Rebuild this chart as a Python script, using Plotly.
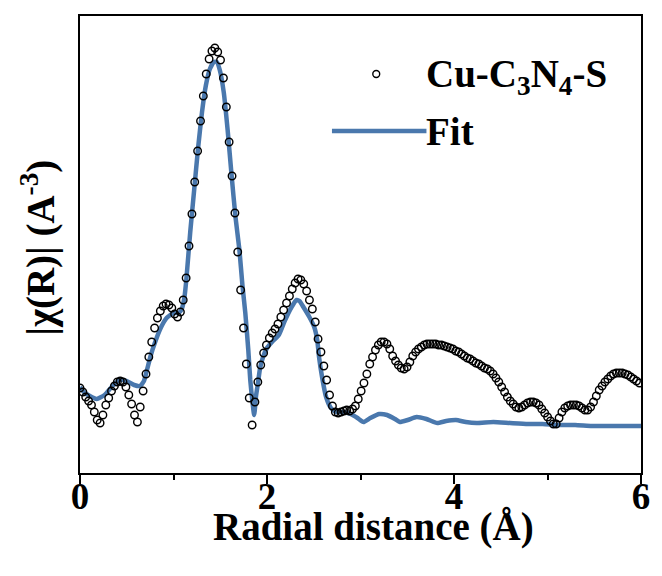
import plotly.graph_objects as go

# ---- data: Cu-C3N4-S FT-EXAFS |chi(R)| (arbitrary units) ----
r_data = [0.000, 0.031, 0.061, 0.092, 0.123, 0.153, 0.184, 0.215, 0.245, 0.276,
          0.307, 0.337, 0.368, 0.399, 0.430, 0.460, 0.491, 0.522, 0.552, 0.583,
          0.614, 0.644, 0.675, 0.706, 0.736, 0.767, 0.798, 0.828, 0.859, 0.890,
          0.920, 0.951, 0.982, 1.012, 1.043, 1.074, 1.104, 1.135, 1.166, 1.197,
          1.227, 1.258, 1.289, 1.319, 1.350, 1.381, 1.411, 1.442, 1.473, 1.503,
          1.534, 1.565, 1.595, 1.626, 1.657, 1.687, 1.718, 1.749, 1.779, 1.810,
          1.841, 1.871, 1.902, 1.933, 1.964, 1.994, 2.025, 2.056, 2.086, 2.117,
          2.148, 2.178, 2.209, 2.240, 2.270, 2.301, 2.332, 2.362, 2.393, 2.424,
          2.454, 2.485, 2.516, 2.546, 2.577, 2.608, 2.638, 2.669, 2.700, 2.731,
          2.761, 2.792, 2.823, 2.853, 2.884, 2.915, 2.945, 2.976, 3.007, 3.037,
          3.068, 3.099, 3.129, 3.160, 3.191, 3.221, 3.252, 3.283, 3.313, 3.344,
          3.375, 3.405, 3.436, 3.467, 3.498, 3.528, 3.559, 3.590, 3.620, 3.651,
          3.682, 3.712, 3.743, 3.774, 3.804, 3.835, 3.866, 3.896, 3.927, 3.958,
          3.988, 4.019, 4.050, 4.080, 4.111, 4.142, 4.172, 4.203, 4.234, 4.265,
          4.295, 4.326, 4.357, 4.387, 4.418, 4.449, 4.479, 4.510, 4.541, 4.571,
          4.602, 4.633, 4.663, 4.694, 4.725, 4.755, 4.786, 4.817, 4.847, 4.878,
          4.909, 4.939, 4.970, 5.001, 5.032, 5.062, 5.093, 5.124, 5.154, 5.185,
          5.216, 5.246, 5.277, 5.308, 5.338, 5.369, 5.400, 5.430, 5.461, 5.492,
          5.522, 5.553, 5.584, 5.614, 5.645, 5.676, 5.706, 5.737, 5.768, 5.799,
          5.829, 5.860, 5.891, 5.921, 5.952, 5.983]
chi_data = [0.85, 0.81, 0.76, 0.72, 0.68, 0.61, 0.53, 0.50, 0.58, 0.68,
            0.75, 0.82, 0.87, 0.91, 0.92, 0.91, 0.86, 0.78, 0.69, 0.58,
            0.51, 0.66, 0.82, 0.99, 1.16, 1.31, 1.45, 1.55, 1.62, 1.67,
            1.69, 1.68, 1.65, 1.59, 1.56, 1.61, 1.73, 1.95, 2.27, 2.59,
            2.91, 3.22, 3.52, 3.77, 3.99, 4.14, 4.22, 4.25, 4.21, 4.13,
            3.95, 3.66, 3.31, 2.97, 2.60, 2.21, 1.83, 1.45, 1.09, 0.75,
            0.48, 0.71, 0.91, 1.08, 1.20, 1.28, 1.35, 1.40, 1.44, 1.49,
            1.56, 1.63, 1.70, 1.77, 1.84, 1.90, 1.94, 1.93, 1.89, 1.82,
            1.73, 1.64, 1.51, 1.34, 1.21, 1.07, 0.93, 0.78, 0.67, 0.61,
            0.60, 0.61, 0.62, 0.63, 0.62, 0.64, 0.67, 0.74, 0.82, 0.90,
            0.99, 1.09, 1.16, 1.23, 1.28, 1.31, 1.31, 1.29, 1.24, 1.17,
            1.12, 1.08, 1.05, 1.04, 1.06, 1.11, 1.17, 1.21, 1.24, 1.26,
            1.28, 1.29, 1.29, 1.29, 1.29, 1.28, 1.28, 1.27, 1.26, 1.25,
            1.24, 1.22, 1.21, 1.19, 1.17, 1.15, 1.14, 1.12, 1.10, 1.09,
            1.07, 1.05, 1.04, 1.02, 0.99, 0.95, 0.91, 0.86, 0.81, 0.76,
            0.72, 0.69, 0.66, 0.65, 0.66, 0.68, 0.70, 0.71, 0.71, 0.70,
            0.68, 0.64, 0.60, 0.56, 0.52, 0.49, 0.49, 0.55, 0.61, 0.65,
            0.67, 0.68, 0.68, 0.68, 0.67, 0.65, 0.63, 0.63, 0.66, 0.71,
            0.77, 0.83, 0.87, 0.91, 0.94, 0.97, 0.99, 1.00, 1.00, 1.00,
            0.99, 0.98, 0.96, 0.94, 0.92, 0.90]

# ---- fit curve ----
r_fit = [0.000, 0.042, 0.105, 0.179, 0.263, 0.347, 0.421, 0.495, 0.579, 0.642,
         0.684, 0.716, 0.758, 0.800, 0.863, 0.926, 1.000, 1.053, 1.084, 1.116,
         1.137, 1.179, 1.221, 1.263, 1.305, 1.347, 1.389, 1.432, 1.463, 1.495,
         1.537, 1.579, 1.621, 1.663, 1.705, 1.737, 1.768, 1.800, 1.821, 1.842,
         1.863, 1.884, 1.905, 1.926, 1.958, 2.000, 2.053, 2.126, 2.189, 2.263,
         2.316, 2.347, 2.389, 2.453, 2.505, 2.537, 2.558, 2.589, 2.632, 2.684,
         2.737, 2.811, 2.895, 2.968, 3.032, 3.105, 3.200, 3.284, 3.368, 3.421,
         3.505, 3.600, 3.705, 3.821, 3.916, 4.021, 4.126, 4.242, 4.421, 4.600,
         4.789, 4.947, 5.126, 5.295, 5.474, 5.653, 6.000]
chi_fit = [0.86, 0.81, 0.77, 0.74, 0.78, 0.87, 0.93, 0.92, 0.88, 0.87,
           0.92, 1.03, 1.18, 1.30, 1.45, 1.55, 1.60, 1.60, 1.63, 1.75,
           1.93, 2.41, 2.83, 3.25, 3.61, 3.88, 4.04, 4.11, 4.11, 4.03,
           3.81, 3.43, 2.98, 2.56, 2.23, 1.88, 1.60, 1.23, 0.93, 0.73,
           0.58, 0.78, 0.91, 1.05, 1.16, 1.25, 1.31, 1.38, 1.52, 1.66,
           1.73, 1.72, 1.66, 1.56, 1.46, 1.33, 1.15, 0.96, 0.76, 0.65,
           0.61, 0.61, 0.59, 0.55, 0.51, 0.55, 0.59, 0.58, 0.54, 0.51,
           0.53, 0.56, 0.54, 0.50, 0.52, 0.53, 0.51, 0.50, 0.51, 0.50,
           0.49, 0.49, 0.48, 0.48, 0.47, 0.47, 0.47]

x_ticks = [0, 2, 4, 6]
x_ticktext = ["0", "2", "4", "6"]
label_data = "Cu-C<sub>3</sub>N<sub>4</sub>-S"
label_fit = "Fit"
x_title = "Radial distance (Å)"
y_title = "|χ(R)| (A<sup>-3</sup>)"

FIT_COLOR = "#4a78ad"
FONT = "Liberation Serif"

fig = go.Figure()
fig.add_trace(go.Scatter(
    x=r_fit, y=chi_fit, mode="lines", name=label_fit,
    line=dict(color=FIT_COLOR, width=4.5, shape="spline", smoothing=0.5),
    showlegend=False))
fig.add_trace(go.Scatter(
    x=r_data, y=chi_data, mode="markers", name=label_data,
    marker=dict(symbol="circle-open", size=7.5, color="black",
                line=dict(color="black", width=1.4)),
    showlegend=False))

L, R, T, B = 80, 12, 16, 103
W, H = 662, 576
pw, ph = W - L - R, H - T - B

def px(xp):
    return (xp - L) / pw

def py(yp):
    return (H - B - yp) / ph

# manual legend
fig.add_shape(type="circle", xref="paper", yref="paper",
              x0=px(381 - 3.5), x1=px(381 + 3.5), y0=py(74 + 3.5), y1=py(74 - 3.5),
              line=dict(color="black", width=1.4))
fig.add_shape(type="line", xref="paper", yref="paper",
              x0=px(336), x1=px(432), y0=py(131), y1=py(131),
              line=dict(color=FIT_COLOR, width=4.5))
fig.add_annotation(text=label_data, xref="paper", yref="paper",
                   x=px(430), y=py(76), xanchor="left", yanchor="middle",
                   showarrow=False, font=dict(size=39))
fig.add_annotation(text=label_fit, xref="paper", yref="paper",
                   x=px(430), y=py(131), xanchor="left", yanchor="middle",
                   showarrow=False, font=dict(size=39))
# axis titles
fig.add_annotation(text=y_title, xref="paper", yref="paper",
                   x=px(37), y=py(248), xanchor="center", yanchor="middle",
                   textangle=-90, showarrow=False, font=dict(size=39))
fig.add_annotation(text=x_title, xref="paper", yref="paper",
                   x=px(378), y=py(527), xanchor="center", yanchor="middle",
                   showarrow=False, font=dict(size=39))

fig.update_layout(
    width=W, height=H,
    margin=dict(l=L, r=R, t=T, b=B),
    paper_bgcolor="white", plot_bgcolor="white",
    font=dict(family=FONT, size=37, color="black", weight="bold"),
    showlegend=False,
)
fig.update_xaxes(
    range=[0, 6], tickvals=x_ticks, ticktext=x_ticktext,
    showline=True, mirror=True, linecolor="black", linewidth=2,
    ticks="outside", ticklen=9, tickwidth=2, tickcolor="black",
    minor=dict(ticks="outside", ticklen=5, tickwidth=2, tickcolor="black", dtick=1),
    showgrid=False, zeroline=False,
    ticklabelstandoff=-19,
    tickfont=dict(size=37),
)
fig.update_yaxes(
    range=[0, 4.57], showticklabels=False, ticks="",
    showline=True, mirror=True, linecolor="black", linewidth=2,
    showgrid=False, zeroline=False,
)

fig.write_html("out.html")
